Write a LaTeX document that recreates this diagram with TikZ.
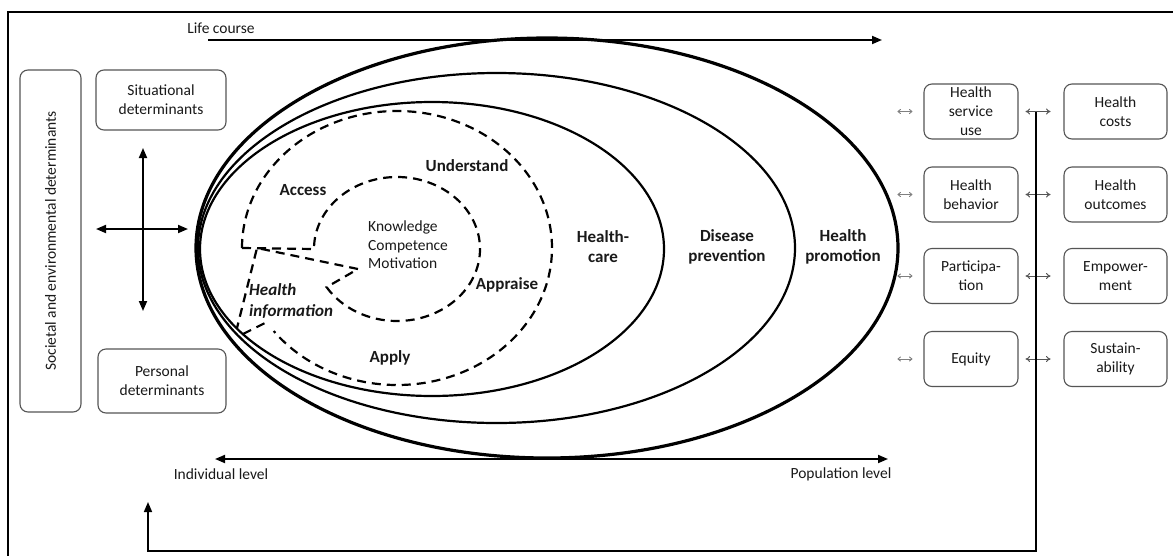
\documentclass[tikz,border=0pt]{standalone}
\usepackage{fontspec}
\setmainfont{Carlito}
\usetikzlibrary{arrows.meta,calc}
\definecolor{boxgray}{RGB}{85,85,85}
\definecolor{txtgray}{RGB}{25,25,25}
\begin{document}
\begin{tikzpicture}[x=1pt,y=1pt,
  frameline/.style={line width=2pt},
  mainarr/.style={line width=1.8pt,-{Triangle[length=10pt,width=8pt]}},
  biarr/.style={line width=1.8pt,{Triangle[length=10pt,width=8pt]}-{Triangle[length=10pt,width=8pt]}},
  detbox/.style={draw=boxgray,line width=1.1pt,rounded corners=8pt,inner sep=0pt,align=center,
    font=\fontsize{15.5}{19}\selectfont,text=txtgray},
  plain/.style={inner sep=0pt,align=center,font=\fontsize{15.5}{18.5}\selectfont,text=txtgray},
  boldlab/.style={inner sep=0pt,align=center,font=\fontsize{17}{20}\selectfont\bfseries,text=txtgray},
  dsh/.style={line width=2.2pt,dash pattern=on 9pt off 6pt},
  smallarr/.style={gray,line width=0.9pt,{To[length=3.5pt,width=5pt]}-{To[length=3.5pt,width=5pt]}},
  midarr/.style={boxgray,line width=1pt,{To[length=4.5pt,width=6pt]}-{To[length=4.5pt,width=6pt]}}
]
\useasboundingbox (0,0) rectangle (1173,-555);
\fill[white] (0,0) rectangle (1173,-555);

% outer frame
\coordinate (frA) at (8,-560);
\coordinate (frB) at (8,-12);
\coordinate (frC) at (1180,-12);
\draw[frameline] (frA) -- (frB) -- (frC);

% life course
\node[plain] (lifec) at (221,-28) {Life course};
\coordinate (lc1) at (208,-40);
\coordinate (lc2) at (882,-40);
\draw[mainarr] (lc1) -- (lc2);

% left boxes
\node[detbox,minimum width=61pt,minimum height=342pt] (soc) at (50.5,-241) {};
\node[plain,rotate=90] (soctext) at (soc.center) {Societal and environmental determinants};
\node[detbox,minimum width=130pt,minimum height=60pt] (sit) at (161,-100) {Situational\\determinants};
\node[detbox,minimum width=128pt,minimum height=64pt] (pers) at (162,-381) {Personal\\determinants};

% cross arrows
\coordinate (cvT) at (143,-148);
\coordinate (cvB) at (143,-311);
\coordinate (chL) at (96,-229);
\coordinate (chR) at (188,-229);
\draw[biarr] (cvT) -- (cvB);
\draw[biarr] (chL) -- (chR);

% ellipses
\coordinate (e1) at (547,-248);
\coordinate (e2) at (496.5,-248);
\coordinate (e3) at (432,-249);
\draw[line width=3.2pt] (e1) ellipse [x radius=351, y radius=210];
\draw[line width=2.2pt] (e2) ellipse [x radius=298.5, y radius=175];
\draw[line width=2.2pt] (e3) ellipse [x radius=232, y radius=147];

% dashed structure
\coordinate (dc) at (397,-248);
\coordinate (ic) at (397,-249);
\coordinate (apex) at (358,-269);
\coordinate (wedgeA) at (257,-248);
\coordinate (wedgeB) at (237,-328);
\coordinate (stubA) at (243,-334);
\coordinate (stubB) at (267,-322);
\draw[dsh] ($(dc)+(180:155 and 137)$) -- ($(ic)+(180:83 and 72)$)
  arc[start angle=180,end angle=-148,x radius=83,y radius=72]
  -- (apex) -- (wedgeA) -- (wedgeB);
\draw[dsh] ($(dc)+(180:155 and 137)$) arc[start angle=180,end angle=-142.7,x radius=155,y radius=137];
\draw[dsh] (stubA) -- (stubB);

% inner labels
\node[boldlab] (access) at (303,-190) {Access};
\node[boldlab] (understand) at (467,-166) {Understand};
\node[boldlab] (appraise) at (507,-285) {Appraise};
\node[boldlab] (apply) at (390,-358) {Apply};
\node[plain,align=left,anchor=west] (kcm) at (368,-245) {Knowledge\\Competence\\Motivation};
\node[inner sep=0pt,align=left,anchor=west,text=txtgray,font=\fontsize{17}{21}\selectfont\bfseries\itshape] (hinfo) at (249,-301) {Health\\information};
\node[boldlab] (hcare) at (603,-247) {Health-\\care};
\node[boldlab] (dprev) at (727,-247) {Disease\\prevention};
\node[boldlab] (hprom) at (843,-247) {Health\\promotion};

% individual / population
\coordinate (ipL) at (215,-459);
\coordinate (ipR) at (888,-459);
\draw[biarr] (ipL) -- (ipR);
\node[plain] (indiv) at (221,-474) {Individual level};
\node[plain] (popul) at (841,-474) {Population level};

% right boxes
\tikzset{rbox1/.style={detbox,minimum width=94pt,minimum height=55pt},
         rbox2/.style={detbox,minimum width=103pt,minimum height=55pt}}
\node[rbox1] (hsu) at (971,-111.5) {Health\\service\\use};
\node[rbox1] (hbeh) at (971,-194.5) {Health\\behavior};
\node[rbox1] (part) at (971,-276) {Participa-\\tion};
\node[rbox1] (equ) at (971,-359) {Equity};
\node[rbox2] (hcost) at (1115.5,-111.5) {Health\\costs};
\node[rbox2] (hout) at (1115.5,-194.5) {Health\\outcomes};
\node[rbox2] (emp) at (1115.5,-276) {Empower-\\ment};
\node[rbox2] (sus) at (1115.5,-359) {Sustain-\\ability};

\foreach \b in {hsu,hbeh,part,equ}{
  \draw[smallarr] ([xshift=-26pt]\b.west) -- ([xshift=-11pt]\b.west);
  \draw[midarr] ([xshift=7pt]\b.east) -- ([xshift=32pt]\b.east);
}

% feedback line
\coordinate (fb1) at (1036,-112);
\coordinate (fb2) at (1036,-551);
\coordinate (fb3) at (148,-551);
\coordinate (fb4) at (148,-502);
\draw[line width=1.6pt,-{Triangle[length=10pt,width=8pt]}] (fb1) -- (fb2) -- (fb3) -- (fb4);
\end{tikzpicture}
\end{document}
